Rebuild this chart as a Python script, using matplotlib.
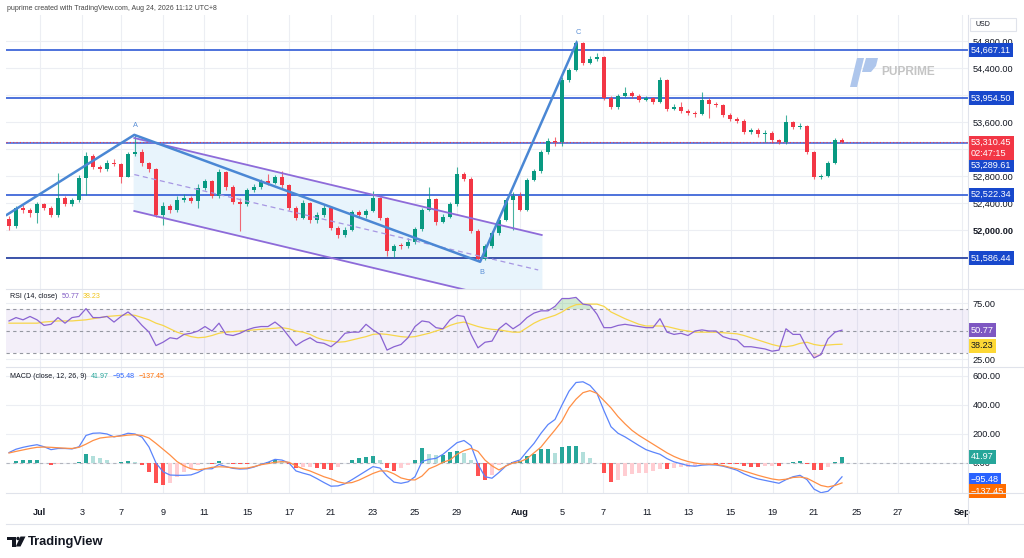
import numpy as np
import matplotlib
matplotlib.use('Agg')
import matplotlib.pyplot as plt
import matplotlib.transforms as mtransforms
from matplotlib.lines import Line2D
from matplotlib.patches import Polygon, Rectangle, Circle

plt.rcParams['font.family'] = ['Liberation Sans', 'DejaVu Sans']

# ---- data (8h candles, Jul 1 - Aug 24) ----
open_first = 52160
close = [52060, 52320, 52290, 52250, 52380, 52330, 52230, 52470, 52390, 52450,
         52770, 53090, 52930, 52900, 53000, 52980, 52790, 53120, 53160, 52990,
         52900, 52230, 52360, 52290, 52450, 52480, 52430, 52620, 52720, 52500,
         52860, 52640, 52420, 52380, 52590, 52640, 52720, 52700, 52780, 52660,
         52320, 52180, 52400, 52150, 52220, 52330, 52030, 51920, 52000, 52270,
         52220, 52280, 52470, 52180, 51690, 51770, 51760, 51830, 52010, 52300,
         52460, 52120, 52200, 52380, 52830, 52760, 51990, 51570, 51770, 51950,
         52150, 52450, 52500, 52300, 52740, 52870, 53150, 53320, 53300, 54220,
         54370, 54770, 54480, 54540, 54560, 53960, 53820, 53990, 54030, 53990,
         53930, 53950, 53900, 54220, 53800, 53820, 53770, 53740, 53720, 53930,
         53870, 53850, 53710, 53650, 53620, 53450, 53480, 53420, 53440, 53330,
         53300, 53600, 53530, 53540, 53150, 52790, 52800, 53000, 53340, 53310.45]
high = [52210, 52360, 52370, 52320, 52420, 52400, 52350, 52840, 52500, 52480,
        52810, 53150, 53120, 52960, 53040, 53050, 53000, 53150, 53410, 53200,
        53010, 52920, 52420, 52380, 52500, 52530, 52510, 52680, 52760, 52740,
        52900, 52880, 52660, 52470, 52620, 52680, 52760, 52830, 52820, 52880,
        52680, 52350, 52440, 52420, 52260, 52380, 52350, 52060, 52040, 52300,
        52300, 52310, 52580, 52490, 52200, 51800, 51810, 51880, 52040, 52330,
        52640, 52480, 52240, 52420, 52930, 52860, 52780, 52010, 51800, 51980,
        52180, 52480, 52560, 52560, 52770, 52900, 53180, 53360, 53380, 54260,
        54400, 54810, 54790, 54580, 54620, 54580, 53990, 54020, 54120, 54060,
        54010, 53990, 53970, 54260, 54230, 53860, 53900, 53790, 53760, 54050,
        53950, 53900, 53870, 53740, 53680, 53640, 53510, 53510, 53480, 53460,
        53350, 53700, 53620, 53580, 53560, 53170, 52830, 53030, 53370, 53360]
low = [52000, 52030, 52250, 52200, 52100, 52300, 52200, 52200, 52360, 52350,
       52420, 52520, 52900, 52860, 52880, 52950, 52700, 52780, 53100, 52950,
       52860, 52200, 52080, 52250, 52270, 52420, 52400, 52330, 52590, 52470,
       52480, 52600, 52380, 51990, 52360, 52560, 52610, 52670, 52680, 52630,
       52290, 52150, 52160, 52110, 52100, 52200, 52000, 51880, 51900, 51980,
       52190, 52180, 52260, 52150, 51620, 51600, 51720, 51740, 51800, 51990,
       52280, 52080, 52100, 52180, 52360, 52720, 51960, 51540, 51550, 51740,
       51920, 52130, 52000, 52280, 52280, 52720, 52850, 53130, 53250, 53240,
       54190, 54350, 54450, 54460, 54510, 53930, 53790, 53800, 53970, 53960,
       53900, 53910, 53870, 53880, 53770, 53780, 53740, 53700, 53680, 53700,
       53660, 53820, 53680, 53620, 53580, 53420, 53420, 53380, 53300, 53290,
       53270, 53280, 53500, 53500, 53120, 52760, 52760, 52780, 52980, 53290]

rsi = [59, 62, 60, 63, 60, 55, 56, 62, 57, 62,
       63, 70, 62, 62, 63, 58, 63, 67, 62, 55,
       49, 37, 40, 44, 43, 47, 48, 50, 54, 50,
       57, 47, 46, 48, 51, 53, 54, 54, 58, 53,
       45, 37, 41, 44, 40, 39, 36, 41, 48, 49,
       49, 56, 51, 47, 33, 36, 38, 44, 54, 59,
       58, 53, 52, 60, 64, 63, 47, 35, 40, 41,
       52, 57, 52, 56, 62, 66, 68, 68, 72, 79,
       79, 80, 74, 73, 65, 53, 53, 55, 56, 55,
       54, 53, 53, 61, 49, 47, 48, 46, 50, 51,
       50, 50, 45, 43, 42, 36, 36, 35, 34, 32,
       33, 52, 47, 47, 35, 26, 29, 43, 49, 50.77]
rsi_ma = [57, 57, 57, 57, 57, 58, 58.5, 59, 59, 59,
          59.5, 60, 61, 62, 63, 63.5, 64, 64.5, 64, 62,
          60, 57, 55, 52, 49, 47, 45, 44, 44.5, 46,
          48, 49, 49.5, 50, 50.5, 51, 51.5, 52, 52.5, 53,
          52, 50, 49, 47, 44, 42, 41, 40, 40.5, 42,
          43.5, 45, 47, 47.5, 47, 46, 45, 44.5, 45, 46.5,
          48, 50, 52, 55, 57, 58, 56, 54, 52.5, 51.5,
          51, 50, 49, 49, 53, 57, 60, 62, 64, 67,
          71, 73.5, 74, 74, 74, 72, 67, 64, 61, 58.5,
          56, 54.5, 54.5, 54.5, 54, 52.5, 51, 50, 49, 49,
          49, 49, 48.5, 48, 47.5, 46, 44, 42, 40, 38,
          36.5, 36, 37, 39, 40, 38, 37, 37.5, 38, 38.23]

macd = [72, 95, 108, 118, 126, 112, 92, 100, 100, 97,
        112, 190, 205, 207, 200, 180, 190, 205, 200, 178,
        110, 0, -60, -83, -85, -85, -82, -65, -40, -40,
        -10, -25, -37, -42, -40, -28, -10, 5, 25, 20,
        0, -55, -70, -83, -108, -135, -160, -158, -143, -115,
        -85, -55, -25, -35, -90, -132, -140, -130, -95, 10,
        25, 32, 60, 100, 140, 155, 120, -10, -95, -105,
        -65, -20, 5, 21, 80, 135, 205, 265, 300, 400,
        495, 555, 560, 535, 480, 360, 250, 205, 180, 150,
        120, 92, 75, 60, 30, 8, -5, -18, -22, -15,
        -12, -14, -22, -35, -50, -75, -95, -110, -120, -130,
        -140, -115, -95, -85, -115, -180, -205, -195, -150, -95.48]
signal = [69, 80, 90, 100, 108, 110, 108, 105, 102, 100,
          108, 130, 155, 172, 178, 182, 186, 192, 195, 190,
          172, 135, 95, 55, 10, -20, -40, -48, -40, -30,
          -26, -28, -33, -37, -35, -25, -12, -4, 5, 9,
          5, -20, -40, -55, -75, -95, -110, -130, -140, -135,
          -118, -95, -72, -55, -55, -75, -103, -115, -117, -90,
          -40, -20, 5, 21, 60, 85, 100, 80, 20, -20,
          -48, -20, 0, 9, 30, 70, 110, 170, 228, 290,
          380, 440, 485, 499, 480, 430, 380, 320, 270, 225,
          190, 160, 130, 100, 70, 45, 25, 10, 0, -7,
          -8, -10, -18, -30, -40, -55, -70, -85, -98, -110,
          -117, -112, -100, -97, -105, -130, -155, -165, -155, -137.45]

x_tick_labels = ['Jul', '3', '7', '9', '11', '15', '17', '21', '23', '25', '29',
                 'Aug', '5', '7', '11', '13', '15', '19', '21', '25', '27', 'Sep']
x_tick_pos = [4.4, 10.4, 16, 22, 27.9, 34, 40, 46, 52, 58, 64,
              73, 79, 84.9, 91.1, 97, 103.1, 109.1, 115, 121.1, 127, 136.1]

levels = [54667.11, 53954.50, 52522.34]
support = 51586.44
last_price = 53310.45
prev_close_line = 53289.61

# pattern points A-B-C and the channel, in (bar, price)
trend_x = [-0.4, 17.9, 67.3, 81.1]
trend_y = [52220, 53410, 51530, 54780]
chan_x = [17.9, 76.1]
chan_up = [53363, 51927]
chan_lo = [52282, 50846]
chan_mid_x = [17.9, 75.6]
chan_mid = [52822, 51409]

# ---- figure ----
W, H = 1024, 558
fig = plt.figure(figsize=(W / 100, H / 100), dpi=100)
pix = mtransforms.Affine2D().scale(1 / W, -1 / H).translate(0, 1) + fig.transFigure


def px_axes(l, t, r, b):
    return fig.add_axes([l / W, 1 - b / H, (r - l) / W, (b - t) / H])


ax = px_axes(6, 15, 968, 289)
ax_rsi = px_axes(6, 289, 968, 367)
ax_macd = px_axes(6, 367, 968, 493)

grid_c = '#eceef3'
tick_c = '#131722'
for a in (ax, ax_rsi, ax_macd):
    for s in a.spines.values():
        s.set_visible(False)
    a.set_xlim(-0.43, 137)
    a.set_xticks(x_tick_pos)
    a.grid(True, color=grid_c, lw=0.8)
    a.set_axisbelow(True)
    a.yaxis.tick_right()
    a.tick_params(axis='y', length=0, pad=3.5, labelsize=6.6, labelcolor=tick_c)
    a.tick_params(axis='x', length=0, labelbottom=False)

idx = np.arange(len(close))
c = np.array(close)
o = np.array([open_first] + close[:-1])
hi = np.array(high)
lo = np.array(low)
up_c, dn_c = '#089981', '#f23645'
cols = np.where(c >= o, up_c, dn_c)

# channel fill + lines
ax.fill(chan_x + chan_x[::-1], chan_up + chan_lo[::-1], color='#e8f4fc', zorder=1)
ax.plot(chan_x, chan_up, color='#8e6bd9', lw=1.3, zorder=4)
ax.plot(chan_x, chan_lo, color='#8e6bd9', lw=1.3, zorder=4)
ax.plot(chan_mid_x, chan_mid, color='#a797e3', lw=0.9, ls=(0, (4, 3)), zorder=4)

# candles
ax.vlines(idx, lo, hi, colors=cols, lw=0.8, alpha=0.75, zorder=3)
ax.bar(idx, np.maximum(np.abs(c - o), 12), bottom=np.minimum(o, c), width=0.62,
       color=cols, zorder=3)

# horizontal levels
for lv in levels:
    ax.axhline(lv, color='#2f5ad6', lw=1.2, zorder=2)
ax.axhline(support, color='#1c379c', lw=1.2, zorder=2)
ax.axhline(prev_close_line, color='#3a5fd8', lw=1.1, zorder=2)
ax.axhline(last_price, color='#f23645', lw=0.8, ls=(0, (1, 2)), zorder=2)

# A-B-C swing lines
ax.plot(trend_x, trend_y, color='#4a87d4', lw=1.8, zorder=5, solid_capstyle='round')
for name, k, dy in [('A', 1, 6.5), ('B', 2, -8), ('C', 3, 7)]:
    ax.annotate(name, (trend_x[k], trend_y[k]), xytext=(1, dy), textcoords='offset points',
                ha='center', va='center', fontsize=5.3, color='#5b8fd6')

price_ticks = np.arange(51600, 54801, 400)
# labels hidden behind the value tags on the reference are left blank
hidden = (51600, 53200, 54000)
ax.set_ylim(51127, 55185)
ax.set_yticks(price_ticks)
ax.set_yticklabels(['' if v in hidden else '{:,.2f}'.format(v) for v in price_ticks])
for t in ax.get_yticklabels():
    if t.get_text() == '52,000.00':
        t.set_fontweight('bold')

# RSI pane
ri = np.array(rsi)
ax_rsi.axhspan(30, 70, color='#7e57c2', alpha=0.09, lw=0)
for lv in (70, 50, 30):
    ax_rsi.axhline(lv, color='#9598a1', lw=0.8, ls=(0, (3, 3)))
ax_rsi.fill_between(idx, 70, ri, where=ri > 70, interpolate=True, color='#4caf50', alpha=0.25, lw=0)
ax_rsi.fill_between(idx, 30, ri, where=ri < 30, interpolate=True, color='#f23645', alpha=0.2, lw=0)
ax_rsi.plot(idx, rsi_ma, color='#f7d64a', lw=0.9)
ax_rsi.plot(idx, ri, color='#8a63d2', lw=0.9)
ax_rsi.set_ylim(17.9, 87.5)
ax_rsi.set_yticks([25, 75])
ax_rsi.set_yticklabels(['25.00', '75.00'])

# MACD pane
m = np.array(macd)
s = np.array(signal)
hist = m - s
hcols = []
for i, h in enumerate(hist):
    prev = hist[i - 1] if i > 0 else h
    if h >= 0:
        hcols.append('#26a69a' if h >= prev else '#b2dfdb')
    else:
        hcols.append('#ff5252' if h <= prev else '#ffcdd2')
ax_macd.axhline(0, color='#b2b5be', lw=0.8, ls=(0, (3, 3)))
ax_macd.bar(idx, hist, width=0.62, color=hcols, zorder=2)
ax_macd.plot(idx, m, color='#5b84fb', lw=0.9, zorder=3)
ax_macd.plot(idx, s, color='#ff8f45', lw=0.9, zorder=3)
ax_macd.set_ylim(-207, 662)
ax_macd.set_yticks([0, 200, 400, 600])
ax_macd.set_yticklabels(['0.00', '200.00', '400.00', '600.00'])
ax_macd.tick_params(axis='x', labelbottom=True, labelsize=6.6, labelcolor=tick_c, pad=11)
ax_macd.set_xticklabels(x_tick_labels)
for t in ax_macd.get_xticklabels():
    if t.get_text() in ('Jul', 'Aug', 'Sep'):
        t.set_fontweight('bold')


# right-hand value tags
def tag(a, val, txt, fc, tc='white', dy=0):
    a.annotate(txt, xy=(970.5 / W, val), xycoords=('figure fraction', 'data'),
               xytext=(0, dy), textcoords='offset points', ha='left', va='center',
               fontsize=6.6, color=tc, annotation_clip=False, zorder=10,
               bbox=dict(boxstyle='square,pad=0.28', fc=fc, ec='none'))


for lv in levels:
    tag(ax, lv, '{:,.2f}'.format(lv), '#1848cc')
tag(ax, support, '{:,.2f}'.format(support), '#1848cc')
tag(ax, prev_close_line, '{:,.2f}'.format(prev_close_line), '#1848cc', dy=-16)
tag(ax, last_price, '{:,.2f}\n02:47:15'.format(last_price), '#f23645', dy=-4.5)
tag(ax_rsi, rsi[-1], '{:.2f}'.format(rsi[-1]), '#7e57c2')
tag(ax_rsi, rsi_ma[-1], '{:.2f}'.format(rsi_ma[-1]), '#fdd835', tc='#131722', dy=-1)
tag(ax_macd, hist[-1], '{:.2f}'.format(hist[-1]), '#26a69a')
tag(ax_macd, macd[-1], '\u2212{:.2f}'.format(-macd[-1]), '#2962ff', dy=-2)
tag(ax_macd, signal[-1], '\u2212{:.2f}'.format(-signal[-1]), '#ff6d00', dy=-6)

# pane titles: each piece starts just after the previous one
renderer = fig.canvas.get_renderer()


def legend_row(y, parts, gap=4):
    x = 10
    for txt, col in parts:
        t = fig.text(x / W, 1 - y / H, txt, fontsize=5.1, color=col, va='center', ha='left')
        x = t.get_window_extent(renderer).x1 + gap


legend_row(296, [('RSI (14, close)', '#131722'),
                 ('{:.2f}'.format(rsi[-1]), '#7e57c2'),
                 ('{:.2f}'.format(rsi_ma[-1]), '#f0c419')])
legend_row(376, [('MACD (close, 12, 26, 9)', '#131722'),
                 ('{:.2f}'.format(hist[-1]), '#26a69a'),
                 ('\u2212{:.2f}'.format(-macd[-1]), '#2962ff'),
                 ('\u2212{:.2f}'.format(-signal[-1]), '#ff6d00')])

# frame lines
sep = '#e0e3eb'
for y in (289, 367, 493, 524):
    fig.add_artist(Line2D([6, 1024], [y, y], transform=pix, color=sep, lw=0.8))
fig.add_artist(Line2D([968, 968], [15, 524], transform=pix, color=sep, lw=0.8))

# header, currency box, watermark, footer logo
fig.text(7 / W, 1 - 8 / H, 'puprime created with TradingView.com, Aug 24, 2026 11:12 UTC+8',
         fontsize=5, color='#444', va='center')
fig.add_artist(Rectangle((970, 18), 46, 13, transform=pix, fc='white', ec=sep, lw=0.8))
fig.text(975 / W, 1 - 25 / H, 'USD', fontsize=5, color='#131722', va='center')

fig.add_artist(Polygon([(850, 87), (857, 87), (864, 58), (857, 58)], transform=pix,
                       fc='#aec6ec', ec='none'))
fig.add_artist(Polygon([(866, 58), (878, 58), (876, 66), (871, 72), (862, 72)], transform=pix,
                       fc='#aec6ec', ec='none'))
fig.text(881 / W, 1 - 72 / H, 'PUPRIME', fontsize=8.6, fontweight='bold', color='#c4c4c4', va='center')

fig.add_artist(Rectangle((7, 536.5), 8.5, 3, transform=pix, fc='#131722', ec='none'))
fig.add_artist(Rectangle((11.5, 536.5), 4, 10, transform=pix, fc='#131722', ec='none'))
fig.add_artist(Circle((18, 538.5), 1.7, transform=pix, fc='#131722', ec='none'))
fig.add_artist(Polygon([(20.5, 536.5), (25.5, 536.5), (20.5, 546.5), (15.8, 546.5)], transform=pix,
                       fc='#131722', ec='none'))
fig.text(28 / W, 1 - 541.5 / H, 'TradingView', fontsize=9.3, fontweight='bold', color='#131722', va='center')

fig.savefig('out.png', dpi=100)
